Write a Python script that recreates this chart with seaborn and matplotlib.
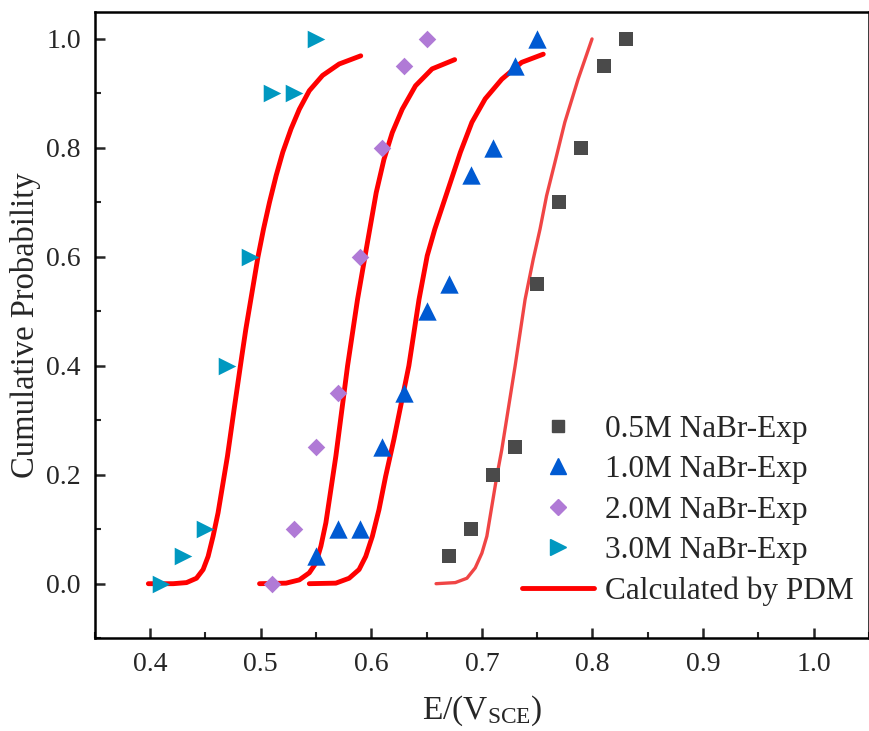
import numpy as np
import pandas as pd
import matplotlib
matplotlib.use("Agg")
import matplotlib.pyplot as plt
from matplotlib.ticker import MultipleLocator
import seaborn as sns

# ===================== style =====================
sns.set_style("ticks")
plt.rcParams['font.family'] = ['Liberation Serif', 'DejaVu Serif']
plt.rcParams['mathtext.fontset'] = 'custom'
plt.rcParams['mathtext.rm'] = 'Liberation Serif'
plt.rcParams['mathtext.it'] = 'Liberation Serif:italic'

# ===================== data =====================
LABELS = ['0.5M NaBr-Exp', '1.0M NaBr-Exp', '2.0M NaBr-Exp', '3.0M NaBr-Exp']
MARKERS = ['s', '^', 'D', '>']
COLORS = ['#4a4a4a', '#005ad2', '#b07ad6', '#0098c0']
SIZES = [95, 175, 80, 160]

exp_05_x = [0.67, 0.69, 0.71, 0.73, 0.75, 0.77, 0.79, 0.81, 0.83]
exp_05_y = [0.05, 0.10, 0.20, 0.25, 0.55, 0.70, 0.80, 0.95, 1.00]

exp_10_x = [0.55, 0.57, 0.59, 0.61, 0.63, 0.65, 0.67, 0.69, 0.71, 0.73, 0.75]
exp_10_y = [0.05, 0.10, 0.10, 0.25, 0.35, 0.50, 0.55, 0.75, 0.80, 0.95, 1.00]

exp_20_x = [0.51, 0.53, 0.55, 0.57, 0.59, 0.61, 0.63, 0.65]
exp_20_y = [0.00, 0.10, 0.25, 0.35, 0.60, 0.80, 0.95, 1.00]

exp_30_x = [0.41, 0.43, 0.45, 0.47, 0.49, 0.51, 0.53, 0.55]
exp_30_y = [0.00, 0.05, 0.10, 0.40, 0.60, 0.90, 0.90, 1.00]

# PDM curves, points
pdm_30_x = [0.3985, 0.421, 0.433, 0.442, 0.448, 0.4525, 0.457, 0.4615, 0.466, 0.470,
            0.476, 0.483, 0.4866, 0.4976, 0.5026, 0.508, 0.514, 0.520, 0.5275,
            0.535, 0.544, 0.556, 0.571, 0.5905]
pdm_30_y = [0.000, 0.000, 0.002, 0.010, 0.026, 0.050, 0.087, 0.130, 0.185, 0.234,
            0.320, 0.418, 0.467, 0.600, 0.651, 0.700, 0.749, 0.792, 0.835,
            0.871, 0.905, 0.933, 0.954, 0.969]

pdm_20_x = [0.499, 0.523, 0.535, 0.544, 0.550, 0.5545, 0.559, 0.5635, 0.568,
            0.5786, 0.5876, 0.5966, 0.6045, 0.6115, 0.619, 0.628, 0.640, 0.655, 0.6754]
pdm_20_y = [0.000, 0.001, 0.007, 0.020, 0.038, 0.069, 0.112, 0.173, 0.234,
            0.400, 0.522, 0.627, 0.718, 0.779, 0.828, 0.871, 0.914, 0.945, 0.962]

pdm_10_x = [0.544, 0.568, 0.580, 0.589, 0.595, 0.601, 0.607, 0.613, 0.6205, 0.634,
            0.6432, 0.6506, 0.6575, 0.6716, 0.6806, 0.691, 0.703, 0.718, 0.736,
            0.7555]
pdm_10_y = [0.000, 0.001, 0.010, 0.026, 0.050, 0.087, 0.136, 0.197, 0.265, 0.400,
            0.522, 0.602, 0.651, 0.737, 0.792, 0.847, 0.890, 0.926, 0.957,
            0.972]

pdm_05_x = [0.6586, 0.676, 0.6865, 0.694, 0.700, 0.7045, 0.709, 0.7135, 0.718,
            0.7301, 0.7391, 0.7465, 0.7526, 0.7585, 0.766, 0.775, 0.787, 0.7996]
pdm_05_y = [0.000, 0.002, 0.010, 0.029, 0.056, 0.087, 0.142, 0.197, 0.246,
            0.400, 0.522, 0.596, 0.651, 0.712, 0.773, 0.847, 0.926, 1.000]

exp_x = [exp_05_x, exp_10_x, exp_20_x, exp_30_x]
exp_y = [exp_05_y, exp_10_y, exp_20_y, exp_30_y]

# ===================== plot =====================
fig = plt.figure(figsize=(8.69, 7.31), dpi=100)
ax = fig.add_axes([0.109, 0.127, 0.891, 0.857])

# calculated curves
for cx, cy, col, lw in [(pdm_30_x, pdm_30_y, '#ff0000', 3.5),
                        (pdm_20_x, pdm_20_y, '#ff0000', 3.5),
                        (pdm_10_x, pdm_10_y, '#ff0000', 3.5),
                        (pdm_05_x, pdm_05_y, '#f04545', 2.4)]:
    df_c = pd.DataFrame({'E': cx, 'P': cy})
    sns.lineplot(data=df_c, x='E', y='P', color=col, linewidth=lw, sort=False,
                 estimator=None, ax=ax, legend=False, solid_capstyle='round',
                 solid_joinstyle='round')

# experimental points
handles = []
for xs, ys, lab, mk, col, sz in zip(exp_x, exp_y, LABELS, MARKERS, COLORS, SIZES):
    df_e = pd.DataFrame({'E': xs, 'P': ys})
    sns.scatterplot(data=df_e, x='E', y='P', marker=mk, color=col, s=sz,
                    linewidth=0, ax=ax, legend=False, zorder=3)
    handles.append(plt.Line2D([], [], linestyle='none', marker=mk, color=col,
                              markersize=np.sqrt(sz) * 0.9, label=lab))
handles.append(plt.Line2D([], [], color='#ff0000', linewidth=3.5,
                          label='Calculated by PDM'))

ax.set_xlim(0.35, 1.05)
ax.set_ylim(-0.1, 1.05)
ax.xaxis.set_minor_locator(MultipleLocator(0.05))
ax.yaxis.set_minor_locator(MultipleLocator(0.1))
ax.set_xticks([0.4, 0.5, 0.6, 0.7, 0.8, 0.9, 1.0])
ax.set_xticklabels(['0.4', '0.5', '0.6', '0.7', '0.8', '0.9', '1.0'])
ax.set_yticks([0.0, 0.2, 0.4, 0.6, 0.8, 1.0])
ax.set_yticklabels(['0.0', '0.2', '0.4', '0.6', '0.8', '1.0'])

ax.tick_params(which='major', direction='in', length=7, width=1.8,
               labelsize=20, pad=10, top=False, right=False)
ax.tick_params(which='minor', direction='in', length=4, width=1.5,
               top=False, right=False)
for sp in ax.spines.values():
    sp.set_linewidth(1.8)
    sp.set_color('black')

ax.set_xlabel(r'E/(V$_{\mathrm{SCE}}$)', fontsize=24, labelpad=12)
ax.set_ylabel('Cumulative Probability', fontsize=23.5, labelpad=4)

ax.legend(handles=handles, loc='lower right', frameon=False, fontsize=22.5,
          handlelength=2.3, handletextpad=0.35, labelspacing=0.36,
          borderaxespad=0.1, bbox_to_anchor=(1.0, 0.027))

fig.savefig('out.png', dpi=100)
